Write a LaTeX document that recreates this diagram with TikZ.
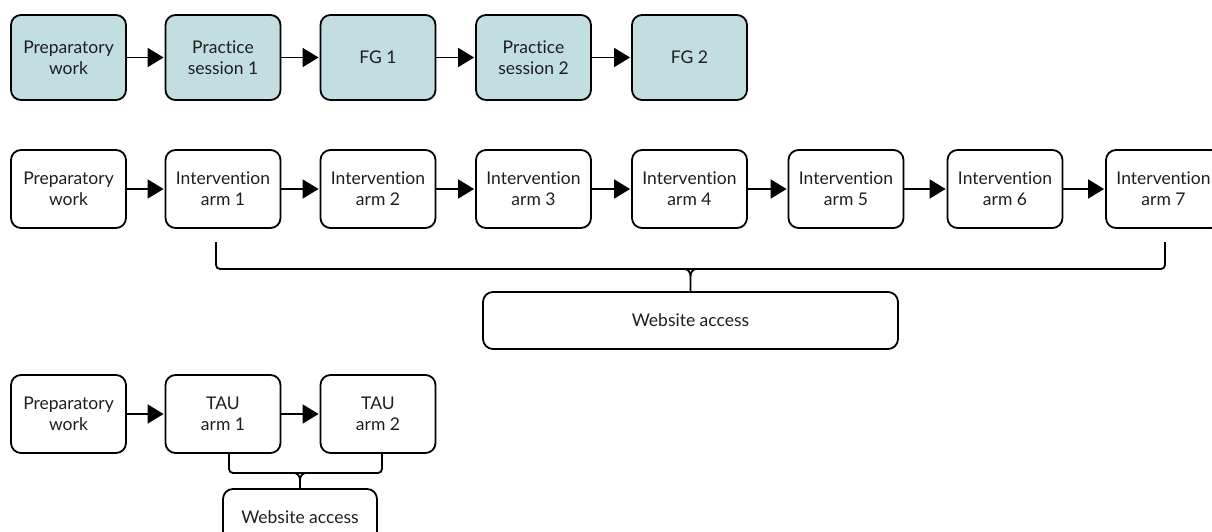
\documentclass[tikz,border=0pt]{standalone}
\usepackage{fontspec}
\setmainfont[Ligatures={NoCommon,NoContextual}]{Lato}
\usetikzlibrary{arrows.meta,calc}
\definecolor{boxblue}{RGB}{195,222,225}
\definecolor{txt}{RGB}{30,30,30}
\begin{document}
\begin{tikzpicture}[x=1pt,y=-1pt,
  box/.style={draw=black,line width=1.8pt,rounded corners=10pt,minimum width=115pt,minimum height=78pt,
    align=center,inner sep=0pt,text=txt,font=\fontsize{17.5}{21}\selectfont},
  tallbox/.style={box,minimum height=85pt,fill=boxblue},
  webbox/.style={box,minimum height=57pt},
  flow/.style={line width=1.8pt,-{Triangle[length=16pt,width=19pt]},shorten >=1pt},
  brace/.style={line width=1.8pt,rounded corners=4pt}]
\useasboundingbox (0,0) rectangle (1212,532);
\clip (0,0) rectangle (1212,532);
% row 1
\node[tallbox] (p1) at (68.5,57.5) {Preparatory\\work};
\node[tallbox] (ps1) at (223,57.5) {Practice\\session 1};
\node[tallbox] (fg1) at (378,57.5) {FG 1};
\node[tallbox] (ps2) at (533.5,57.5) {Practice\\session 2};
\node[tallbox] (fg2) at (689.5,57.5) {FG 2};
\draw[flow] (p1) -- (ps1);
\draw[flow] (ps1) -- (fg1);
\draw[flow] (fg1) -- (ps2);
\draw[flow] (ps2) -- (fg2);
% row 2
\node[box] (p2) at (68.5,189) {Preparatory\\work};
\node[box] (i1) at (223,189) {Intervention\\arm 1};
\node[box] (i2) at (378,189) {Intervention\\arm 2};
\node[box] (i3) at (533.5,189) {Intervention\\arm 3};
\node[box] (i4) at (689.5,189) {Intervention\\arm 4};
\node[box] (i5) at (846,189) {Intervention\\arm 5};
\node[box] (i6) at (1005,189) {Intervention\\arm 6};
\node[box] (i7) at (1163.5,189) {Intervention\\arm 7};
\draw[flow] (p2) -- (i1);
\draw[flow] (i1) -- (i2);
\draw[flow] (i2) -- (i3);
\draw[flow] (i3) -- (i4);
\draw[flow] (i4) -- (i5);
\draw[flow] (i5) -- (i6);
\draw[flow] (i6) -- (i7);
\node[webbox,minimum width=415pt] (w1) at (690.5,320.5) {Website access};
\coordinate (b1l) at (216,242);
\coordinate (b1r) at (1165,242);
\coordinate (b1m) at (690.5,269);
\draw[brace] (b1l) -- (216,269) -- (1165,269) -- (b1r);
\draw[line width=1.8pt] (684.5,269) to[out=0,in=90] (b1m |- 0,276) -- (w1.north);
\draw[line width=1.8pt] (696.5,269) to[out=180,in=90] (b1m |- 0,276);
% row 3
\node[box] (p3) at (68.5,414) {Preparatory\\work};
\node[box] (t1) at (223,414) {TAU\\arm 1};
\node[box] (t2) at (378,414) {TAU\\arm 2};
\draw[flow] (p3) -- (t1);
\draw[flow] (t1) -- (t2);
\node[webbox,minimum width=154pt] (w2) at (300,517.5) {Website access};
\coordinate (b2l) at (229,453);
\coordinate (b2r) at (382,453);
\draw[brace] (b2l) -- (229,473) -- (382,473) -- (b2r);
\draw[line width=1.8pt] (294,473) to[out=0,in=90] (300,480) -- (w2.north);
\draw[line width=1.8pt] (306,473) to[out=180,in=90] (300,480);
\end{tikzpicture}
\end{document}
